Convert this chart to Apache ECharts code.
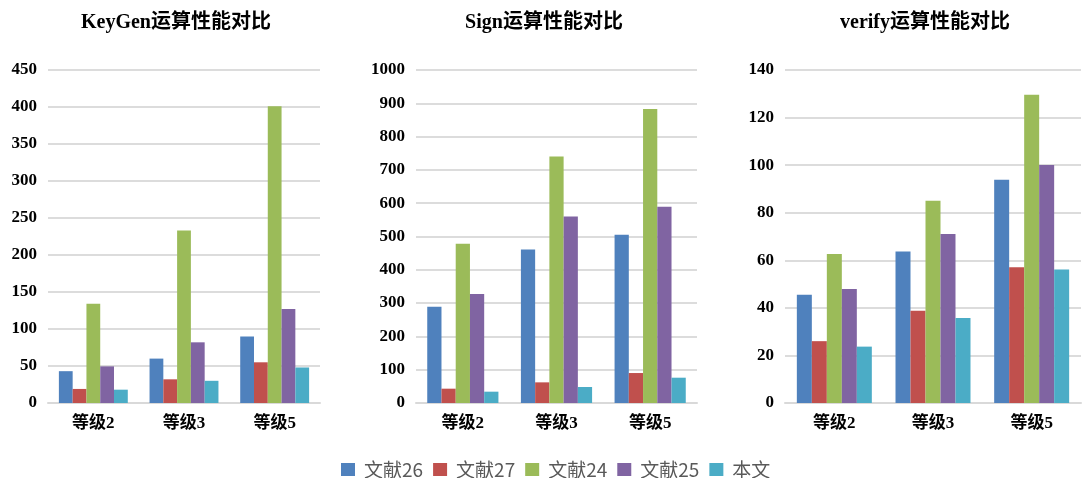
<!DOCTYPE html>
<html>
<head>
<meta charset="utf-8">
<script src="https://cdn.jsdelivr.net/npm/echarts@6/dist/echarts.min.js"></script>
<style>
html,body{margin:0;padding:0;background:#fff;}
#main{width:1083px;height:478px;}
</style>
</head>
<body>
<div id="main"></div>
<script>
const categories = ['等级2', '等级3', '等级5'];
const seriesNames = ['文献26', '文献27', '文献24', '文献25', '本文'];
const chartTitles = ['KeyGen运算性能对比', 'Sign运算性能对比', 'verify运算性能对比'];

// KeyGen
const keygen26 = [43, 60, 90];
const keygen27 = [19, 32, 55];
const keygen24 = [134, 233, 401];
const keygen25 = [49.5, 82, 127];
const keygenOurs = [18, 30, 48];

// Sign
const sign26 = [289, 461, 505];
const sign27 = [43, 62, 90];
const sign24 = [478, 740, 883];
const sign25 = [327, 560, 589];
const signOurs = [34, 48, 76];

// verify
const verify26 = [45.5, 63.7, 93.9];
const verify27 = [26, 38.8, 57.1];
const verify24 = [62.6, 85, 129.6];
const verify25 = [47.9, 71, 100.1];
const verifyOurs = [23.7, 35.7, 56.1];

// axis ranges
const yMax = [450, 1000, 140];
const yInterval = [50, 100, 20];

const colors = ['#4F81BD', '#C0504D', '#9BBB59', '#8064A2', '#4BACC6'];

const chartData = [
  [keygen26, keygen27, keygen24, keygen25, keygenOurs],
  [sign26, sign27, sign24, sign25, signOurs],
  [verify26, verify27, verify24, verify25, verifyOurs]
];

const grids = [
  {left: 48, width: 272, top: 70, height: 333},
  {left: 416, width: 281, top: 70, height: 333},
  {left: 785, width: 296, top: 70, height: 333}
];
const titleCenters = [171, 539, 920];

const serif = '"Liberation Serif", "Times New Roman", "Noto Sans CJK SC", serif';

const option = {
  animation: false,
  backgroundColor: '#ffffff',
  color: colors,
  title: chartTitles.map((t, i) => ({
    text: t,
    left: titleCenters[i],
    top: 8,
    textAlign: 'center',
    textStyle: {fontFamily: serif, fontWeight: 'bold', fontSize: 20, color: '#000'}
  })),
  legend: {
    data: seriesNames,
    top: 455,
    left: 336,
    itemWidth: 14,
    itemHeight: 13,
    itemGap: 10,
    icon: 'rect',
    textStyle: {fontFamily: '"Noto Sans CJK SC", "Noto Sans", sans-serif', fontSize: 19, color: '#595959', padding: [0, 0, 0, 4]}
  },
  grid: grids.map(g => Object.assign({containLabel: false}, g)),
  xAxis: grids.map((g, i) => ({
    type: 'category',
    gridIndex: i,
    data: categories,
    axisTick: {show: false},
    axisLine: {lineStyle: {color: '#d9d9d9', width: 2}},
    axisLabel: {margin: 12, fontFamily: serif, fontWeight: 'bold', fontSize: 17, color: '#000'}
  })),
  yAxis: grids.map((g, i) => ({
    type: 'value',
    gridIndex: i,
    min: 0,
    max: yMax[i],
    interval: yInterval[i],
    axisLine: {show: false},
    axisTick: {show: false},
    splitLine: {lineStyle: {color: '#dcdcdc', width: 2}},
    axisLabel: {margin: 11, fontFamily: serif, fontWeight: 'bold', fontSize: 17, color: '#000', formatter: v => String(v)}
  })),
  series: []
};

chartData.forEach((set, gi) => {
  set.forEach((vals, si) => {
    option.series.push({
      name: seriesNames[si],
      type: 'bar',
      xAxisIndex: gi,
      yAxisIndex: gi,
      data: vals,
      barGap: '0%',
      barCategoryGap: '24%',
      itemStyle: {color: colors[si]}
    });
  });
});

const chart = echarts.init(document.getElementById('main'), null, {renderer: 'canvas'});
chart.setOption(option);
</script>
</body>
</html>
